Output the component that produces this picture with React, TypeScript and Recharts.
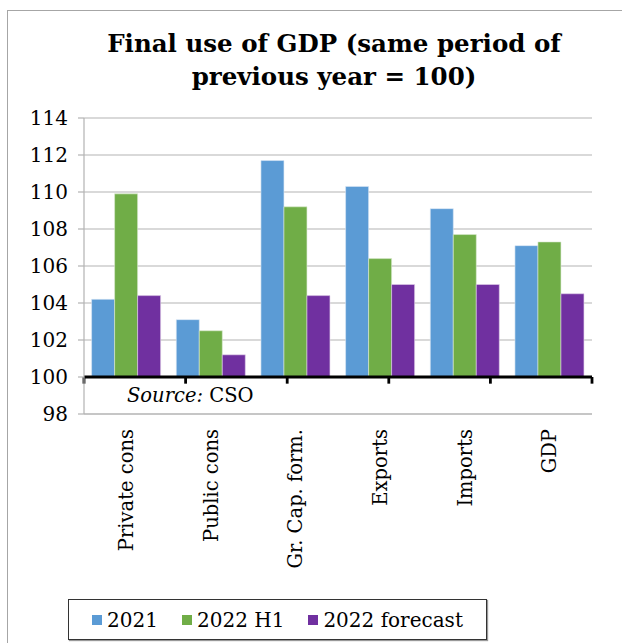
import React from 'react';
import {
  BarChart,
  Bar,
  XAxis,
  YAxis,
  CartesianGrid,
  ReferenceLine,
  ReferenceArea,
  Legend,
} from 'recharts';

const categories = ['Private cons', 'Public cons', 'Gr. Cap. form.', 'Exports', 'Imports', 'GDP'];
const series2021 = [104.2, 103.1, 111.7, 110.3, 109.1, 107.1];
const series2022H1 = [109.9, 102.5, 109.2, 106.4, 107.7, 107.3];
const series2022F = [104.4, 101.2, 104.4, 105.0, 105.0, 104.5];
const yTicks = [98, 100, 102, 104, 106, 108, 110, 112, 114];
const seriesNames = ['2021', '2022 H1', '2022 forecast'];
const BASE = 100;

const data = categories.map((name, i) => ({
  name,
  s1: [BASE, series2021[i]],
  s2: [BASE, series2022H1[i]],
  s3: [BASE, series2022F[i]],
}));

const boundaries = categories.map((_, i) => i).concat([categories.length]);

const FONT = '"DejaVu Serif", serif';
const COLORS = ['#5B9BD5', '#70AD47', '#7030A0'];
const GRID = '#b3b3b3';

const XTick = (props: any) => {
  const { x, y, payload } = props;
  return (
    <text
      x={x}
      y={y}
      transform={`rotate(-90, ${x}, ${y})`}
      textAnchor="end"
      dy="0.35em"
      fontFamily={FONT}
      fontSize={19.5}
      fill="#000"
    >
      {payload.value}
    </text>
  );
};

const SourceLabel = (props: any) => {
  const vb = props.viewBox || {};
  const sx = vb.x + 43;
  const cy = vb.y + vb.height / 2;
  return (
    <text x={sx} y={cy} textAnchor="start" dy="0.35em" fontFamily={FONT} fontSize={19.5} fill="#000">
      <tspan fontStyle="italic">Source:</tspan>
      <tspan> CSO</tspan>
    </text>
  );
};

const LegendContent = (props: any) => {
  const payload = props.payload || [];
  return (
    <div
      style={{
        boxSizing: 'border-box',
        width: 419,
        height: 41,
        border: '1.5px solid #333',
        boxShadow: '1px 1px 1px #999',
        display: 'flex',
        alignItems: 'center',
        justifyContent: 'center',
        fontFamily: FONT,
        fontSize: 20,
        color: '#000',
        background: '#fff',
      }}
    >
      {payload.map((p: any, i: number) => (
        <div key={i} style={{ display: 'flex', alignItems: 'center', marginRight: i < payload.length - 1 ? 24 : 0 }}>
          <span style={{ display: 'inline-block', width: 10, height: 10, background: p.color, marginRight: 5 }} />
          <span>{p.value}</span>
        </div>
      ))}
    </div>
  );
};

export default function App() {
  return (
    <div style={{ position: 'absolute', left: 0, top: 0, width: 622, height: 643, background: '#fff' }}>
      <div
        style={{
          position: 'absolute',
          left: 7,
          top: 10,
          width: 615,
          height: 633,
          borderTop: '1.5px solid #a6a6a6',
          borderLeft: '1.5px solid #a6a6a6',
        }}
      />
      <div
        style={{
          position: 'absolute',
          left: 0,
          top: 27,
          width: 668,
          textAlign: 'center',
          fontFamily: FONT,
          fontWeight: 'bold',
          fontSize: 24.5,
          lineHeight: '33px',
          color: '#000',
        }}
      >
        Final use of GDP (same period of
        <br />
        previous year = 100)
      </div>
      <div style={{ position: 'absolute', left: 0, top: 0 }}>
        <BarChart
          width={622}
          height={643}
          data={data}
          margin={{ top: 118, right: 30, bottom: 219, left: 8 }}
          barCategoryGap="9%"
          barGap={0}
        >
          <CartesianGrid vertical={false} stroke={GRID} strokeWidth={1.2} />
          <XAxis
            dataKey="name"
            xAxisId={0}
            interval={0}
            tick={<XTick />}
            tickLine={false}
            axisLine={{ stroke: GRID, strokeWidth: 1.2 }}
            height={10}
            tickMargin={9}
          />
          <XAxis xAxisId="num" type="number" domain={[0, categories.length]} hide allowDataOverflow />
          <YAxis
            domain={[98, 114]}
            ticks={yTicks}
            interval={0}
            width={76}
            axisLine={{ stroke: GRID, strokeWidth: 1.2 }}
            tickLine={{ stroke: GRID, strokeWidth: 1.2 }}
            tickSize={6}
            tickMargin={10}
            tick={{ fontFamily: FONT, fontSize: 20, fill: '#000' }}
            allowDataOverflow
          />
          <Bar dataKey="s1" name={seriesNames[0]} fill={COLORS[0]} stroke="#dce8f5" strokeWidth={0.6} isAnimationActive={false} />
          <Bar dataKey="s2" name={seriesNames[1]} fill={COLORS[1]} stroke="#dcebd2" strokeWidth={0.6} isAnimationActive={false} />
          <Bar dataKey="s3" name={seriesNames[2]} fill={COLORS[2]} stroke="#e0d0ea" strokeWidth={0.6} isAnimationActive={false} />
          <ReferenceLine xAxisId="num" x={categories.length} stroke={GRID} strokeWidth={1.2} />
          <ReferenceArea
            xAxisId="num"
            x1={0}
            x2={2.5}
            y1={98}
            y2={100}
            fill="none"
            fillOpacity={0}
            strokeOpacity={0}
            label={{ content: <SourceLabel /> } as any}
          />
          <ReferenceLine y={BASE} stroke="#000" strokeWidth={2.8} />
          {boundaries.map((b) => (
            <ReferenceLine
              key={b}
              xAxisId="num"
              segment={[
                { x: b, y: BASE },
                { x: b, y: 99.64 },
              ]}
              stroke="#000"
              strokeWidth={2.8}
            />
          ))}
          <Legend
            layout="horizontal"
            verticalAlign="middle"
            align="center"
            content={<LegendContent />}
            wrapperStyle={{ position: 'absolute', left: 68, top: 599, width: 419, height: 41 }}
          />
        </BarChart>
      </div>
    </div>
  );
}
